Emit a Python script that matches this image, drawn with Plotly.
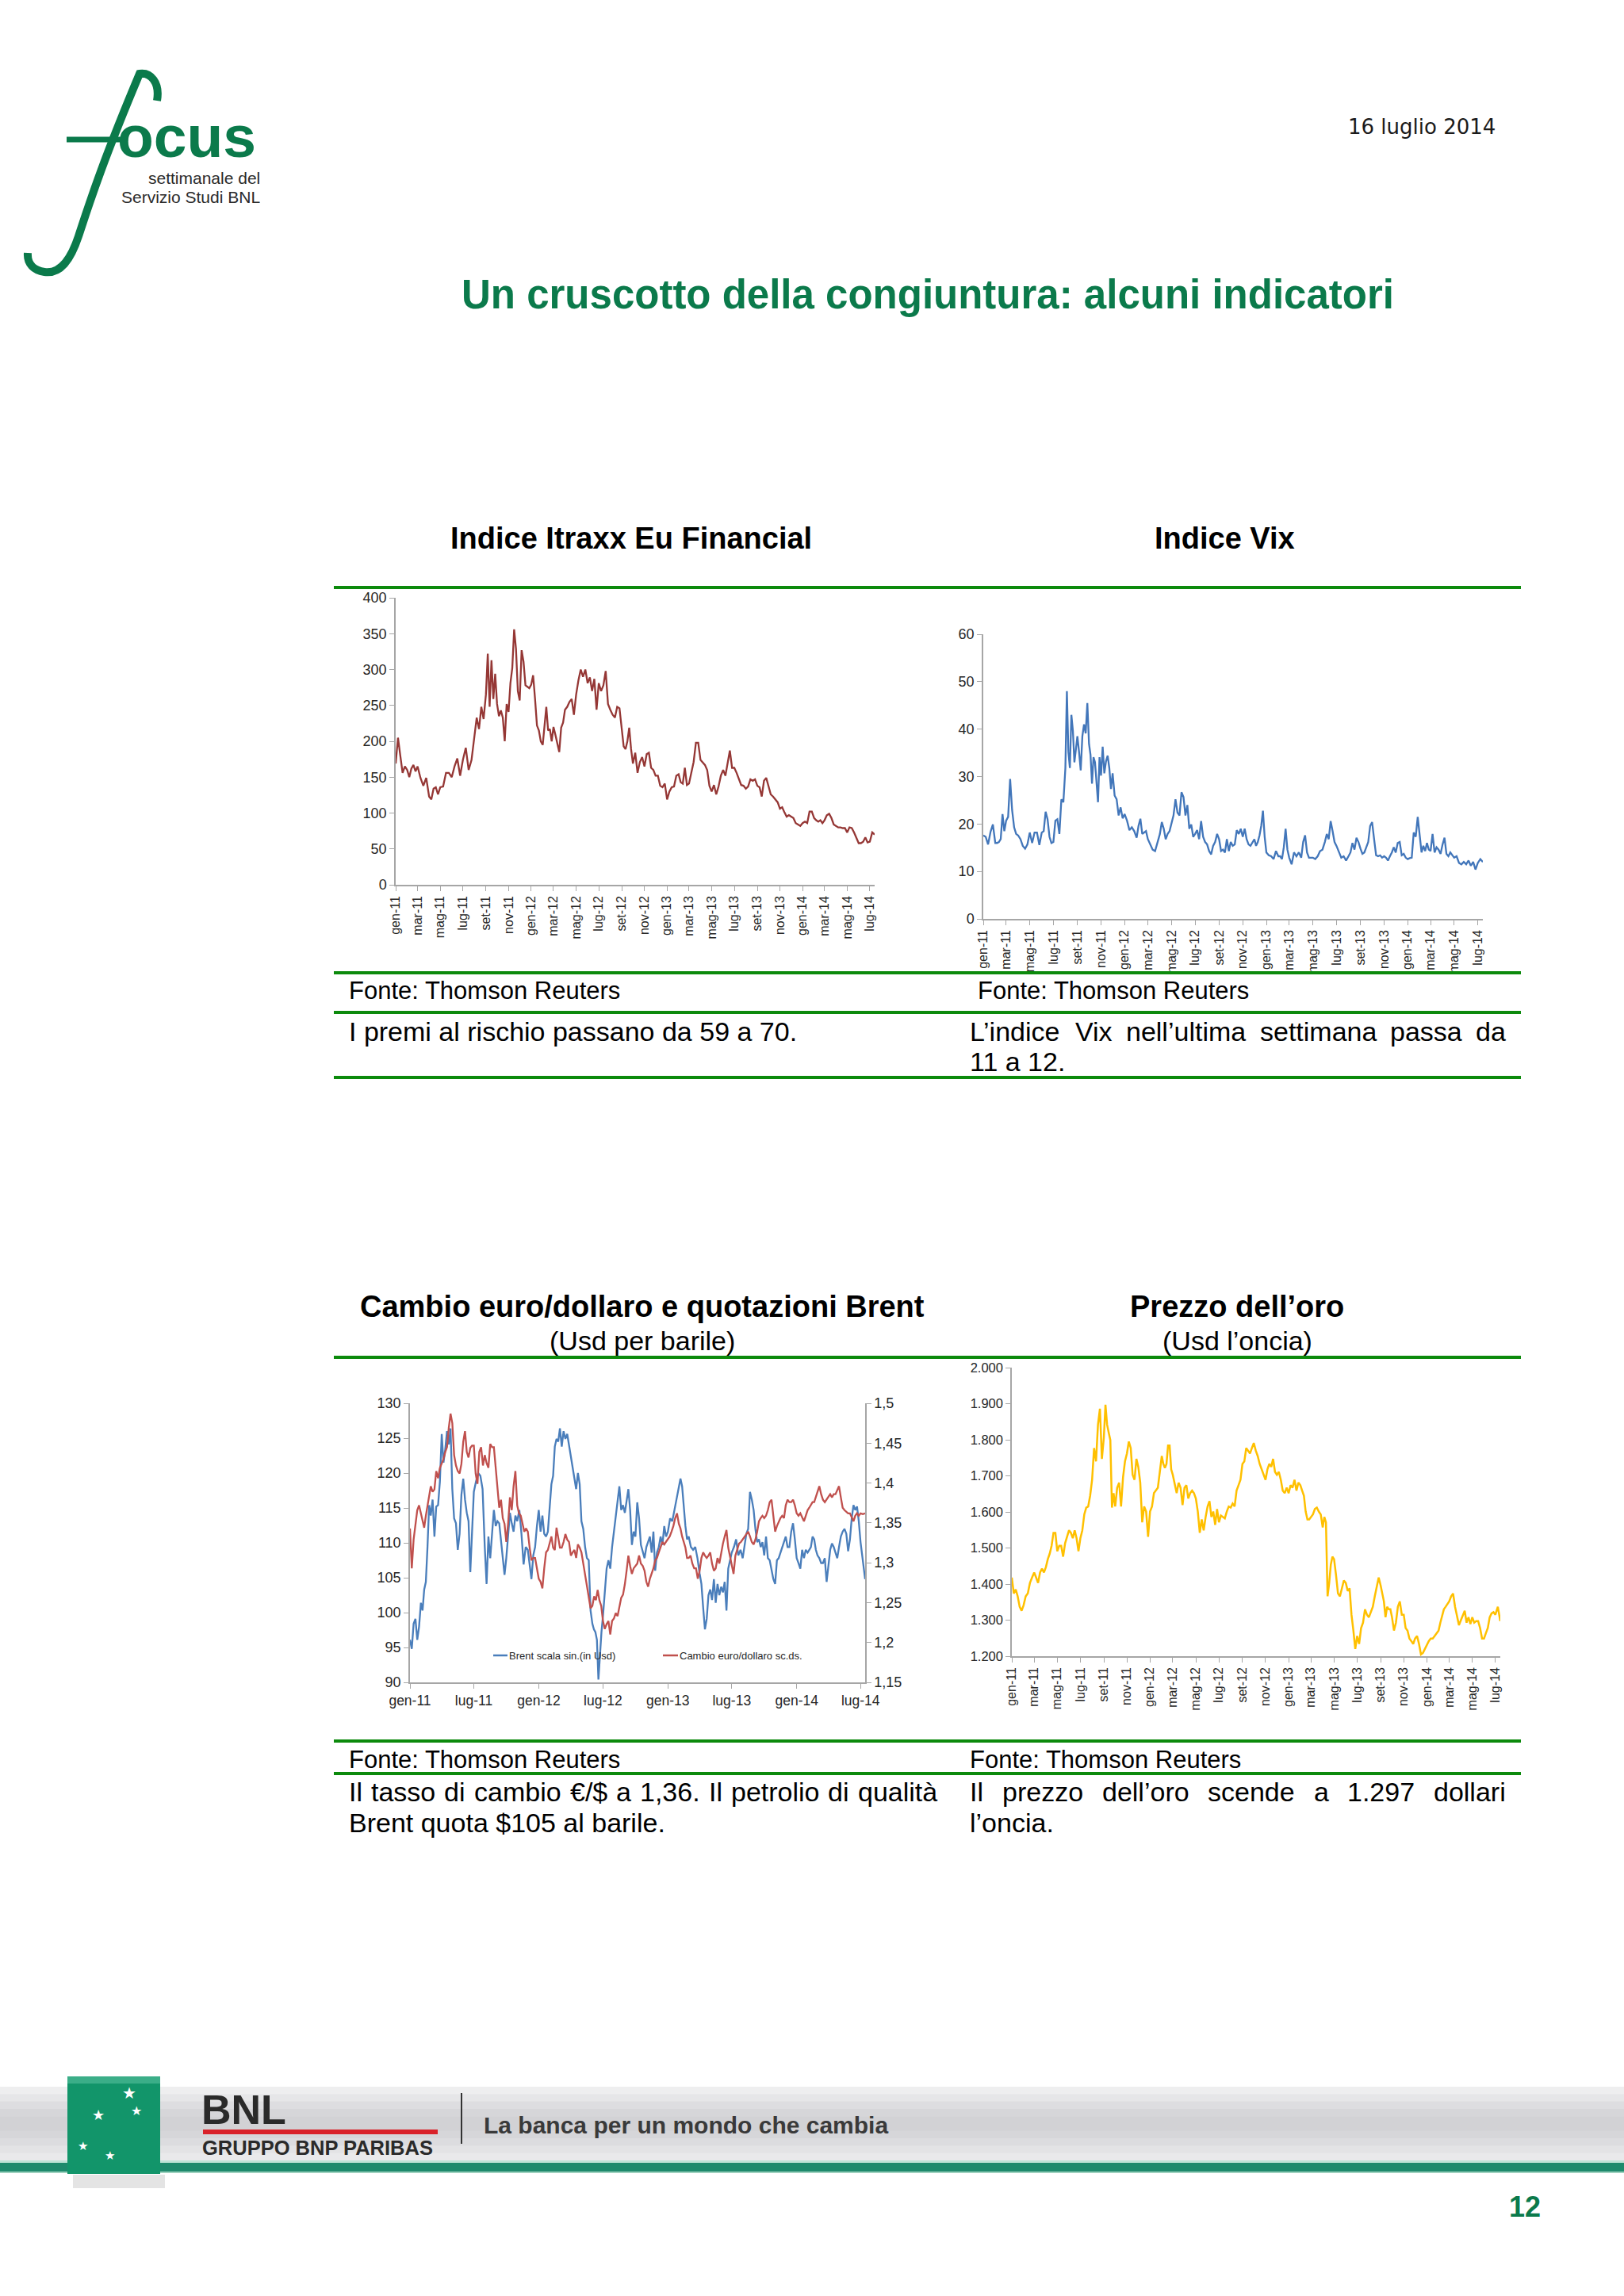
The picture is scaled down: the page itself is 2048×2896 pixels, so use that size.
import calendar
import pandas as pd
import plotly.graph_objects as go

W, H = 2048, 2896

# ---------------- DATA ----------------
MESI = ["gen", "feb", "mar", "apr", "mag", "giu", "lug", "ago", "set", "ott", "nov", "dic"]

# values per month, from gen-11 to lug-14 (data stop mid-July 2014)
itraxx = [
    [169, 205, 180, 156, 165], [160, 150, 162, 167, 158], [165, 149, 138, 149],
    [123, 119, 134, 136, 126], [136, 137, 156, 156], [150, 165, 176, 152],
    [174, 191, 160, 174], [204, 233, 217, 248, 231], [265, 322, 248, 313, 259, 294],
    [252, 235, 243, 233, 200, 252], [241, 281, 302, 356, 329, 270], [257, 327, 311, 278, 276, 274],
    [279, 292, 259, 222, 215, 200], [195, 219, 248, 215, 217, 200], [220, 209, 195, 185, 219, 226],
    [244, 248, 255, 259, 237], [265, 285, 300, 290, 300], [281, 289, 270, 287, 244],
    [281, 270, 278, 298, 252], [244, 237, 233, 248, 246], [219, 193, 189, 200, 219, 189],
    [169, 184, 156, 171, 178], [165, 182, 184, 163, 160], [152, 152, 138, 136, 141],
    [119, 130, 136, 137, 152], [154, 143, 141, 163, 139], [141, 156, 171, 198, 198],
    [174, 171, 167, 160, 138], [130, 139, 126, 137, 152], [160, 152, 171, 187, 163],
    [163, 156, 147, 139, 138], [134, 137, 147, 145, 147], [138, 136, 123, 145, 149],
    [138, 126, 123, 119, 115], [106, 108, 101, 95, 97], [95, 93, 86, 84, 82],
    [86, 88, 86, 102, 102], [93, 90, 88, 90, 86], [90, 97, 99, 93, 84],
    [82, 80, 80, 79, 79], [73, 80, 79, 73, 66], [58, 58, 60, 66, 59],
    [60, 73, 70],
]

vix = [
    [17.6, 17.3, 15.7, 18.3, 19.9], [16.0, 16.0, 16.2, 16.8, 22.1, 18.5], [20.7, 21.5, 29.5, 22.9, 19.3, 17.9],
    [17.6, 16.8, 15.4, 14.8, 15.7], [18.2, 16.0, 18.2, 18.2, 15.6], [18.2, 18.5, 22.6, 21.0, 17.3, 16.0],
    [16.2, 20.7, 21.0, 17.9, 25.2, 24.6], [31.8, 48.0, 35.2, 31.8, 43.0, 39.7, 33.0, 35.7],
    [38.5, 35.2, 31.3, 38.5, 41.0, 39.1, 45.5], [36.9, 34.6, 28.5, 34.1, 33.0, 29.1, 24.6, 34.1],
    [30.2, 36.3, 30.7, 33.2, 34.4, 31.8, 27.4], [30.7, 26.0, 25.2, 21.8, 23.5, 21.2],
    [22.1, 20.7, 18.7, 19.3, 18.5], [17.1, 19.6, 21.1, 17.9, 18.2, 18.5], [16.8, 15.7, 14.6, 14.3, 16.2],
    [17.9, 20.4, 19.0, 16.8, 17.9, 18.5], [20.1, 21.8, 25.2, 22.4, 21.8, 26.7], [25.7, 21.8, 24.0, 19.0, 19.9, 17.3],
    [17.9, 18.7, 16.8, 20.6, 17.3, 16.2], [15.7, 14.3, 13.6, 15.4, 16.2, 17.9], [16.8, 14.3, 14.6, 14.0, 16.8, 14.3],
    [16.2, 15.4, 15.7, 18.7, 17.9, 19.0], [17.3, 19.0, 16.8, 15.7, 15.4, 16.2], [16.8, 15.4, 16.2, 17.6, 19.6, 22.8, 17.3],
    [14.0, 13.4, 13.2, 12.6, 14.3], [13.2, 13.2, 12.6, 15.1, 19.0, 14.6], [12.9, 11.5, 14.0, 13.2, 14.0],
    [12.9, 16.2, 17.6, 14.0, 12.9, 12.9], [12.9, 12.6, 13.2, 14.3, 14.6], [16.2, 17.9, 16.8, 20.6, 18.5, 16.2],
    [15.4, 14.0, 12.9, 13.2, 12.3], [13.2, 14.0, 16.0, 14.6, 17.1, 16.2], [14.8, 13.7, 14.0, 15.1, 16.2, 19.6],
    [20.4, 16.8, 13.4, 13.2, 13.4, 12.9], [13.2, 12.9, 12.3, 13.2, 14.0, 15.1], [14.0, 16.0, 16.2, 13.4, 13.7, 12.9],
    [12.6, 12.8, 12.9, 18.2, 17.3, 21.5], [17.9, 14.0, 15.4, 14.3, 16.0, 14.6], [14.3, 17.9, 14.0, 15.1, 14.6, 13.7],
    [15.7, 17.1, 13.7, 13.2, 14.0, 13.4], [12.9, 13.2, 11.8, 11.5, 12.0], [11.5, 12.3, 11.2, 12.0, 10.4],
    [11.8, 12.6, 12.0],
]

brent = [
    [96.1, 94.8, 98.4, 99.1, 96.1, 98.0], [101.4, 100.3, 103.3, 104.4, 109.4, 115.4],
    [113.9, 116.2, 110.9, 115.2, 115.4, 118.8], [125.6, 121.5, 123.4, 126.0, 124.1, 126.4],
    [117.7, 113.5, 112.8, 109.0, 111.3, 116.9], [119.2, 116.2, 114.3, 113.1, 105.8, 112.4],
    [117.3, 118.8, 120.0, 119.6, 117.7], [109.4, 104.1, 110.9, 107.8, 111.3, 114.7],
    [112.4, 113.1, 112.8, 110.1, 107.8, 105.4], [107.8, 110.9, 114.3, 112.8, 111.6, 113.9],
    [113.1, 114.7, 111.3, 106.9, 109.4], [109.0, 106.7, 104.8, 108.2, 109.4, 112.4],
    [114.7, 111.6, 113.9, 111.3, 110.9, 111.6], [115.4, 118.4, 119.6, 123.8, 124.9, 124.5],
    [126.4, 123.8, 126.0, 124.9, 125.6, 123.9], [122.6, 121.1, 119.2, 117.7, 120.0, 118.4],
    [113.1, 112.0, 109.4, 107.8, 107.5, 100.3], [98.4, 97.6, 97.2, 96.1, 90.4, 94.6, 97.2],
    [99.5, 103.3, 106.3, 107.5, 106.3, 109.4], [111.6, 113.9, 116.2, 118.1, 114.7, 115.4],
    [114.3, 116.2, 117.7, 114.7, 109.7, 111.6], [110.9, 115.8, 113.5, 109.7, 108.6, 107.8],
    [109.4, 110.1, 110.9, 108.6, 111.6, 106.0], [108.6, 109.4, 110.9, 109.7, 112.4, 110.9],
    [111.6, 113.5, 113.1, 114.7, 116.2], [117.7, 119.2, 118.1, 114.7, 112.4, 110.5],
    [110.9, 109.4, 109.0, 109.4, 107.8], [105.6, 104.1, 100.7, 97.6, 99.1, 102.5],
    [103.3, 101.8, 104.8, 101.4, 104.1, 102.5], [103.7, 102.9, 104.4, 100.3, 106.3, 107.5],
    [108.6, 109.4, 110.5, 108.2, 109.0], [107.8, 109.4, 111.3, 112.0, 117.3, 116.2],
    [114.7, 112.0, 110.1, 110.5, 109.4, 110.1], [108.2, 110.9, 107.8, 107.5, 106.3, 104.8],
    [104.1, 107.5, 107.8, 108.6, 109.4, 110.1], [110.9, 109.4, 109.4, 111.6, 112.8, 110.5],
    [107.8, 107.1, 106.3, 109.0, 107.8, 109.0], [108.6, 109.0, 109.4, 110.9, 110.5, 109.0],
    [108.2, 107.8, 107.1, 107.1, 107.8, 104.4], [107.1, 109.0, 109.9, 109.4, 108.6, 107.8],
    [109.4, 110.9, 111.6, 112.0, 111.3, 108.8], [110.5, 113.5, 115.4, 114.7, 115.2, 113.1],
    [110.1, 107.1, 104.8],
]

eurusd = [
    [1.343, 1.293, 1.329, 1.349, 1.366, 1.372], [1.362, 1.352, 1.344, 1.359, 1.372, 1.381],
    [1.396, 1.389, 1.392, 1.415, 1.406, 1.419], [1.425, 1.430, 1.439, 1.445, 1.469, 1.487],
    [1.475, 1.435, 1.422, 1.415, 1.412, 1.424], [1.452, 1.465, 1.439, 1.432, 1.444, 1.447],
    [1.447, 1.412, 1.399, 1.439, 1.445, 1.422], [1.435, 1.425, 1.419, 1.449, 1.445, 1.445],
    [1.419, 1.392, 1.369, 1.379, 1.356, 1.349], [1.326, 1.349, 1.382, 1.366, 1.396, 1.415],
    [1.372, 1.362, 1.359, 1.349, 1.339, 1.343], [1.339, 1.319, 1.303, 1.306, 1.306, 1.293],
    [1.280, 1.276, 1.268, 1.293, 1.313, 1.316], [1.326, 1.333, 1.319, 1.316, 1.344, 1.333],
    [1.319, 1.319, 1.326, 1.336, 1.329, 1.326], [1.309, 1.313, 1.316, 1.306, 1.323, 1.319],
    [1.313, 1.299, 1.286, 1.270, 1.256, 1.243], [1.246, 1.258, 1.253, 1.266, 1.253, 1.246],
    [1.227, 1.217, 1.223, 1.227, 1.210, 1.227], [1.230, 1.237, 1.233, 1.246, 1.256, 1.260],
    [1.273, 1.290, 1.309, 1.296, 1.286, 1.293], [1.296, 1.299, 1.309, 1.299, 1.296, 1.290],
    [1.276, 1.270, 1.280, 1.286, 1.293, 1.303], [1.306, 1.313, 1.319, 1.326, 1.323, 1.326],
    [1.329, 1.333, 1.339, 1.346, 1.356, 1.362], [1.349, 1.343, 1.333, 1.326, 1.319, 1.306],
    [1.306, 1.309, 1.299, 1.293, 1.293, 1.280], [1.290, 1.306, 1.313, 1.309, 1.306, 1.309],
    [1.313, 1.299, 1.290, 1.293, 1.306, 1.299], [1.313, 1.324, 1.333, 1.341, 1.319, 1.309],
    [1.299, 1.286, 1.309, 1.316, 1.324, 1.326], [1.329, 1.333, 1.336, 1.339, 1.333, 1.326],
    [1.323, 1.329, 1.339, 1.352, 1.356, 1.359], [1.356, 1.359, 1.366, 1.376, 1.379, 1.359],
    [1.339, 1.346, 1.352, 1.356, 1.359, 1.356], [1.372, 1.379, 1.376, 1.376, 1.379, 1.372],
    [1.362, 1.359, 1.362, 1.356, 1.352, 1.359], [1.366, 1.369, 1.372, 1.376, 1.376, 1.382],
    [1.389, 1.396, 1.386, 1.379, 1.376, 1.379], [1.382, 1.386, 1.382, 1.386, 1.386, 1.392],
    [1.396, 1.382, 1.369, 1.366, 1.364, 1.362], [1.362, 1.356, 1.352, 1.359, 1.362, 1.359],
    [1.362, 1.361, 1.362],
]

oro = [
    [1418, 1374, 1385, 1366, 1337, 1326], [1341, 1366, 1374, 1403, 1418], [1432, 1418, 1403, 1432, 1443, 1432],
    [1447, 1469, 1484, 1506, 1542, 1542], [1491, 1506, 1506, 1476, 1513, 1531], [1549, 1542, 1527, 1549, 1527, 1491],
    [1527, 1549, 1593, 1612, 1615, 1645], [1689, 1777, 1740, 1842, 1886, 1747], [1806, 1897, 1842, 1820, 1799, 1612, 1652],
    [1615, 1667, 1681, 1615, 1696, 1740], [1762, 1795, 1777, 1703, 1689, 1747], [1725, 1681, 1571, 1615, 1601, 1531],
    [1601, 1615, 1652, 1659, 1667, 1711], [1755, 1733, 1722, 1733, 1784, 1784, 1718], [1703, 1674, 1652, 1681, 1667, 1619],
    [1667, 1674, 1637, 1652, 1659, 1652], [1637, 1601, 1542, 1579, 1549, 1586], [1615, 1630, 1586, 1601, 1564, 1608],
    [1571, 1590, 1586, 1582, 1601, 1615], [1612, 1623, 1615, 1659, 1674, 1689], [1733, 1740, 1777, 1770, 1762, 1777],
    [1791, 1770, 1755, 1733, 1718, 1703], [1689, 1718, 1733, 1725, 1747, 1711], [1703, 1711, 1689, 1659, 1652, 1667],
    [1652, 1674, 1667, 1689, 1659, 1681], [1674, 1659, 1645, 1601, 1579, 1579], [1586, 1593, 1608, 1612, 1601, 1593],
    [1557, 1586, 1571, 1366, 1403, 1454, 1476], [1469, 1425, 1374, 1366, 1388, 1410], [1403, 1381, 1388, 1315, 1271, 1220],
    [1256, 1234, 1278, 1293, 1330, 1315], [1308, 1322, 1337, 1366, 1396, 1418], [1396, 1374, 1352, 1308, 1337, 1330, 1330],
    [1308, 1271, 1293, 1337, 1352, 1315], [1315, 1278, 1271, 1249, 1242, 1234], [1249, 1256, 1234, 1205, 1209, 1220],
    [1234, 1242, 1249, 1249, 1256, 1264], [1271, 1293, 1315, 1330, 1337, 1344], [1352, 1366, 1374, 1337, 1308, 1286],
    [1300, 1315, 1326, 1293, 1308, 1289], [1308, 1293, 1297, 1297, 1278, 1249], [1249, 1264, 1278, 1308, 1319, 1322],
    [1315, 1337, 1297],
]

START_YEAR = 2011
LAST_DAY = 14          # last observation: 14 July 2014
itraxx_ticks = [0, 50, 100, 150, 200, 250, 300, 350, 400]
vix_ticks = [0, 10, 20, 30, 40, 50, 60]
brent_ticks = [90, 95, 100, 105, 110, 115, 120, 125, 130]
eur_ticks = [1.15, 1.2, 1.25, 1.3, 1.35, 1.4, 1.45, 1.5]
eur_labels = ["1,15", "1,2", "1,25", "1,3", "1,35", "1,4", "1,45", "1,5"]
oro_ticks = [1200, 1300, 1400, 1500, 1600, 1700, 1800, 1900, 2000]
oro_labels = ["1.200", "1.300", "1.400", "1.500", "1.600", "1.700", "1.800", "1.900", "2.000"]


def expand(series):
    xs, ys = [], []
    for k, vals in enumerate(series):
        yy, mm = START_YEAR + k // 12, k % 12 + 1
        start = pd.Timestamp(yy, mm, 1)
        n = len(vals)
        if k == len(series) - 1:
            step = pd.Timedelta(days=LAST_DAY - 1) / (n - 1)
        else:
            step = pd.Timedelta(days=calendar.monthrange(yy, mm)[1]) / n
        for i, v in enumerate(vals):
            xs.append(start + step * i)
            ys.append(v)
    return xs, ys


n_months = len(itraxx)
X_START = pd.Timestamp(START_YEAR, 1, 1)
X_END = pd.Timestamp(START_YEAR + (n_months - 1) // 12, (n_months - 1) % 12 + 1, LAST_DAY)
month_starts = pd.date_range(X_START, X_END, freq="MS")
tick2 = list(month_starts[::2])
tick2_txt = ["%s-%02d" % (MESI[d.month - 1], d.year % 100) for d in tick2]
tick6 = list(month_starts[::6])
tick6_txt = ["%s-%02d" % (MESI[d.month - 1], d.year % 100) for d in tick6]

# ---------------- STYLE ----------------
ARIAL = "Liberation Sans, Arial, Helvetica, sans-serif"
NARROW = "Liberation Sans Narrow, Arial Narrow, Liberation Sans, sans-serif"
AX = "#A6A6A6"
TXT = "#262626"
GREEN_RULE = "#0C8A0C"
BNL_GREEN = "#0B7A4B"


def px(x):
    return x / W


def py(y):
    return 1 - y / H


def xdom(a, b):
    return [px(a), px(b)]


def ydom(top, bottom):
    return [py(bottom), py(top)]


fig = go.Figure()

x1, y1 = expand(itraxx)
fig.add_trace(go.Scatter(x=x1, y=y1, mode="lines", line=dict(color="#953735", width=2.3),
                         xaxis="x", yaxis="y", showlegend=False))
x2, y2 = expand(vix)
fig.add_trace(go.Scatter(x=x2, y=y2, mode="lines", line=dict(color="#4276BA", width=2.3),
                         xaxis="x2", yaxis="y2", showlegend=False))
x3, y3 = expand(brent)
fig.add_trace(go.Scatter(x=x3, y=y3, mode="lines", line=dict(color="#4A7EBB", width=2.3),
                         xaxis="x3", yaxis="y3", name="Brent scala sin.(in Usd)", showlegend=False))
x4, y4 = expand(eurusd)
fig.add_trace(go.Scatter(x=x4, y=y4, mode="lines", line=dict(color="#C0504D", width=2.3),
                         xaxis="x3", yaxis="y4", name="Cambio euro/dollaro sc.ds.", showlegend=False))
x5, y5 = expand(oro)
fig.add_trace(go.Scatter(x=x5, y=y5, mode="lines", line=dict(color="#FFC000", width=2.5),
                         xaxis="x4", yaxis="y5", showlegend=False))


def xaxis_cfg(dom, ticks, labels, angle, size, anchor):
    return dict(domain=dom, type="date", range=[X_START, X_END], tickmode="array",
                tickvals=ticks, ticktext=labels, tickangle=angle, ticks="outside", ticklen=6,
                tickcolor=AX, tickwidth=1.2, showline=True, linecolor=AX, linewidth=1.5,
                showgrid=False, zeroline=False, anchor=anchor, fixedrange=True, automargin=False,
                tickfont=dict(family=NARROW, size=size, color=TXT))


def yaxis_cfg(dom, rng, ticks, labels, anchor, side="left", overlaying=None, size=18):
    d = dict(domain=dom, range=rng, tickmode="array", tickvals=ticks, ticktext=labels,
             ticks="outside", ticklen=6, tickcolor=AX, tickwidth=1.2, showline=True,
             linecolor=AX, linewidth=1.5, showgrid=False, zeroline=False, anchor=anchor,
             side=side, fixedrange=True, automargin=False,
             tickfont=dict(family=NARROW, size=size, color=TXT))
    if overlaying:
        d["overlaying"] = overlaying
        d.pop("domain")
    return d


fig.update_layout(
    template="none",
    width=W, height=H, margin=dict(l=0, r=0, t=0, b=0, pad=0, autoexpand=False),
    paper_bgcolor="white", plot_bgcolor="rgba(0,0,0,0)", showlegend=False,
    xaxis=xaxis_cfg(xdom(499, 1103), tick2, tick2_txt, -90, 16, "y"),
    yaxis=yaxis_cfg(ydom(754, 1116), [0, 400], itraxx_ticks, [str(v) for v in itraxx_ticks], "x"),
    xaxis2=xaxis_cfg(xdom(1240, 1870), tick2, tick2_txt, -90, 16, "y2"),
    yaxis2=yaxis_cfg(ydom(800, 1159), [0, 60], vix_ticks, [str(v) for v in vix_ticks], "x2"),
    xaxis3=xaxis_cfg(xdom(517, 1091), tick6, tick6_txt, 0, 17.5, "y3"),
    yaxis3=yaxis_cfg(ydom(1770, 2122), [90, 130], brent_ticks, [str(v) for v in brent_ticks], "x3"),
    yaxis4=yaxis_cfg(None, [1.15, 1.5], eur_ticks, eur_labels, "x3", side="right", overlaying="y3"),
    xaxis4=xaxis_cfg(xdom(1276, 1892), tick2, tick2_txt, -90, 16, "y5"),
    yaxis5=yaxis_cfg(ydom(1725, 2089), [1200, 2000], oro_ticks, oro_labels, "x4", size=16.5),
)

shapes = []
annos = []


def hline(y, xa, xb, color, width):
    shapes.append(dict(type="line", xref="paper", yref="paper", x0=px(xa), x1=px(xb),
                       y0=py(y), y1=py(y), line=dict(color=color, width=width)))


def rect(xa, ya, xb, yb, color):
    shapes.append(dict(type="rect", xref="paper", yref="paper", x0=px(xa), x1=px(xb),
                       y0=py(yb), y1=py(ya), fillcolor=color, line=dict(width=0), layer="below"))


def text(t, x, y, size, family=ARIAL, color="#000000", anchor="left", bold=False, yanchor="middle"):
    if bold:
        t = "<b>%s</b>" % t
    annos.append(dict(text=t, x=px(x), y=py(y), xref="paper", yref="paper", showarrow=False,
                      xanchor=anchor, yanchor=yanchor, borderpad=0,
                      font=dict(family=family, size=size, color=color)))


# Arial advance widths (per 1000 em) for justification
AW = {" ": 278, "a": 556, "b": 556, "c": 500, "d": 556, "e": 556, "f": 278, "g": 556, "h": 556,
      "i": 222, "j": 222, "k": 500, "l": 222, "m": 833, "n": 556, "o": 556, "p": 556, "q": 556,
      "r": 333, "s": 500, "t": 278, "u": 556, "v": 500, "w": 722, "x": 500, "y": 500, "z": 500,
      ".": 278, ",": 278, ":": 278, "\u2019": 222, "I": 278, "L": 556, "V": 667, "B": 667,
      "\u20ac": 556, "$": 556, "/": 278, "\u00e0": 556}


def tw(s, size):
    return sum(AW.get(c, 556) for c in s) / 1000.0 * size


def justify(line, xa, xb, y, size):
    words = line.split(" ")
    widths = [tw(w, size) for w in words]
    gap = (xb - xa - sum(widths)) / (len(words) - 1)
    x = xa
    for w, wd in zip(words, widths):
        text(w, x, y, size)
        x += wd + gap


# ---- header ----
text("16 luglio 2014", 1887, 160, 26, family="DejaVu Sans, Verdana, sans-serif", color="#1a1a1a", anchor="right")
text("Un cruscotto della congiuntura: alcuni indicatori", 1170, 372, 51, color=BNL_GREEN, anchor="center", bold=True)


# focus logo
def path_px(cmds):
    out = []
    for c in cmds:
        if isinstance(c, str):
            out.append(c)
        else:
            out.append("%.5f,%.5f" % (px(c[0]), py(c[1])))
    return " ".join(out)


fpath = path_px(["M", (198, 127), "C", (202, 104), (190, 91), (176, 93), (156, 96), (143, 124), (135, 165),
                 "C", (126, 212), (111, 262), (99, 298), "C", (89, 328), (76, 346), (56, 343),
                 "C", (43, 341), (34, 333), (35, 319)])
shapes.append(dict(type="path", xref="paper", yref="paper", path=fpath,
                   line=dict(color=BNL_GREEN, width=10)))
hline(176, 84, 152, BNL_GREEN, 7)
text("ocus", 147, 172, 75, color=BNL_GREEN, bold=True)
text("settimanale del", 329, 224, 21, color="#2a2a2a", anchor="right")
text("Servizio Studi BNL", 329, 248, 21, color="#2a2a2a", anchor="right")

# ---- green rules ----
for yy in [741, 1227, 1277, 1359, 1712, 2196, 2237]:
    hline(yy, 421, 1918, GREEN_RULE, 4)

# ---- chart titles ----
text("Indice Itraxx Eu Financial", 796, 679, 38, anchor="center", bold=True)
text("Indice Vix", 1544, 679, 38, anchor="center", bold=True)
text("Cambio euro/dollaro e quotazioni Brent", 810, 1648, 38, anchor="center", bold=True)
text("(Usd per barile)", 810, 1691, 34, anchor="center")
text("Prezzo dell\u2019oro", 1560, 1648, 38, anchor="center", bold=True)
text("(Usd l\u2019oncia)", 1560, 1691, 34, anchor="center")

# legend of the Brent chart
hline(2088, 622, 640, "#4A7EBB", 2.5)
text("Brent scala sin.(in Usd)", 641, 2088, 13, color=TXT)
hline(2088, 836, 855, "#C0504D", 2.5)
text("Cambio euro/dollaro sc.ds.", 856, 2088, 13, color=TXT)

# ---- sources and comments ----
text("Fonte: Thomson Reuters", 439, 1250, 31)
text("Fonte: Thomson Reuters", 1232, 1250, 31)
text("I premi al rischio passano da 59 a 70.", 439, 1301, 34)
justify("L\u2019indice Vix nell\u2019ultima settimana passa da", 1222, 1898, 1301, 34)
text("11 a 12.", 1222, 1339, 34)

text("Fonte: Thomson Reuters", 439, 2219, 31)
text("Fonte: Thomson Reuters", 1222, 2219, 31)
justify("Il tasso di cambio \u20ac/$ a 1,36. Il petrolio di qualit\u00e0", 439, 1181, 2260, 34)
text("Brent quota $105 al barile.", 439, 2299, 34)
justify("Il prezzo dell\u2019oro scende a 1.297 dollari", 1222, 1898, 2260, 34)
text("l\u2019oncia.", 1222, 2299, 34)

# ---- footer ----
band = ["#EEEEEF", "#E6E6E8", "#DDDDE0", "#D6D6D9", "#D2D2D5", "#D2D2D5", "#D6D6D9", "#DCDCDF", "#E3E3E5", "#E9E9EB"]
y0b, y1b = 2632, 2725
hstep = (y1b - y0b) / len(band)
for i, c in enumerate(band):
    rect(0, y0b + i * hstep, W, y0b + (i + 1) * hstep + 0.5, c)
rect(0, 2725, W, 2728, "#BFE3D6")
rect(0, 2728, W, 2739, "#1E8A6C")
rect(0, 2739, W, 2741, "#9ED2BF")
# BNP square
rect(92, 2743, 208, 2760, "#E4E4E4")
rect(85, 2619, 202, 2742, "#12956A")
rect(85, 2619, 202, 2628, "#3BAE88")
for (sx, sy, ss) in [(163, 2640, 20), (172, 2662, 16), (124, 2668, 18), (104, 2706, 15), (138, 2718, 15)]:
    text("\u2605", sx, sy, ss, color="white", anchor="center")
text("BNL", 253, 2661, 52, color="#2a2a2a", bold=True)
rect(256, 2686, 552, 2692, "#D9222A")
text("GRUPPO BNP PARIBAS", 254, 2709, 25.5, color="#2a2a2a", bold=True)
shapes.append(dict(type="line", xref="paper", yref="paper", x0=px(582), x1=px(582), y0=py(2640), y1=py(2704),
                   line=dict(color="#333333", width=2)))
text("La banca per un mondo che cambia", 609, 2680, 30, color="#3a3a3a", bold=True)
text("12", 1923, 2783, 36, color=BNL_GREEN, anchor="center", bold=True)

fig.update_layout(shapes=shapes, annotations=annos)

fig.write_html("out.html", config={"displayModeBar": False},
               post_script="document.body.style.margin='0';document.body.style.padding='0';")
